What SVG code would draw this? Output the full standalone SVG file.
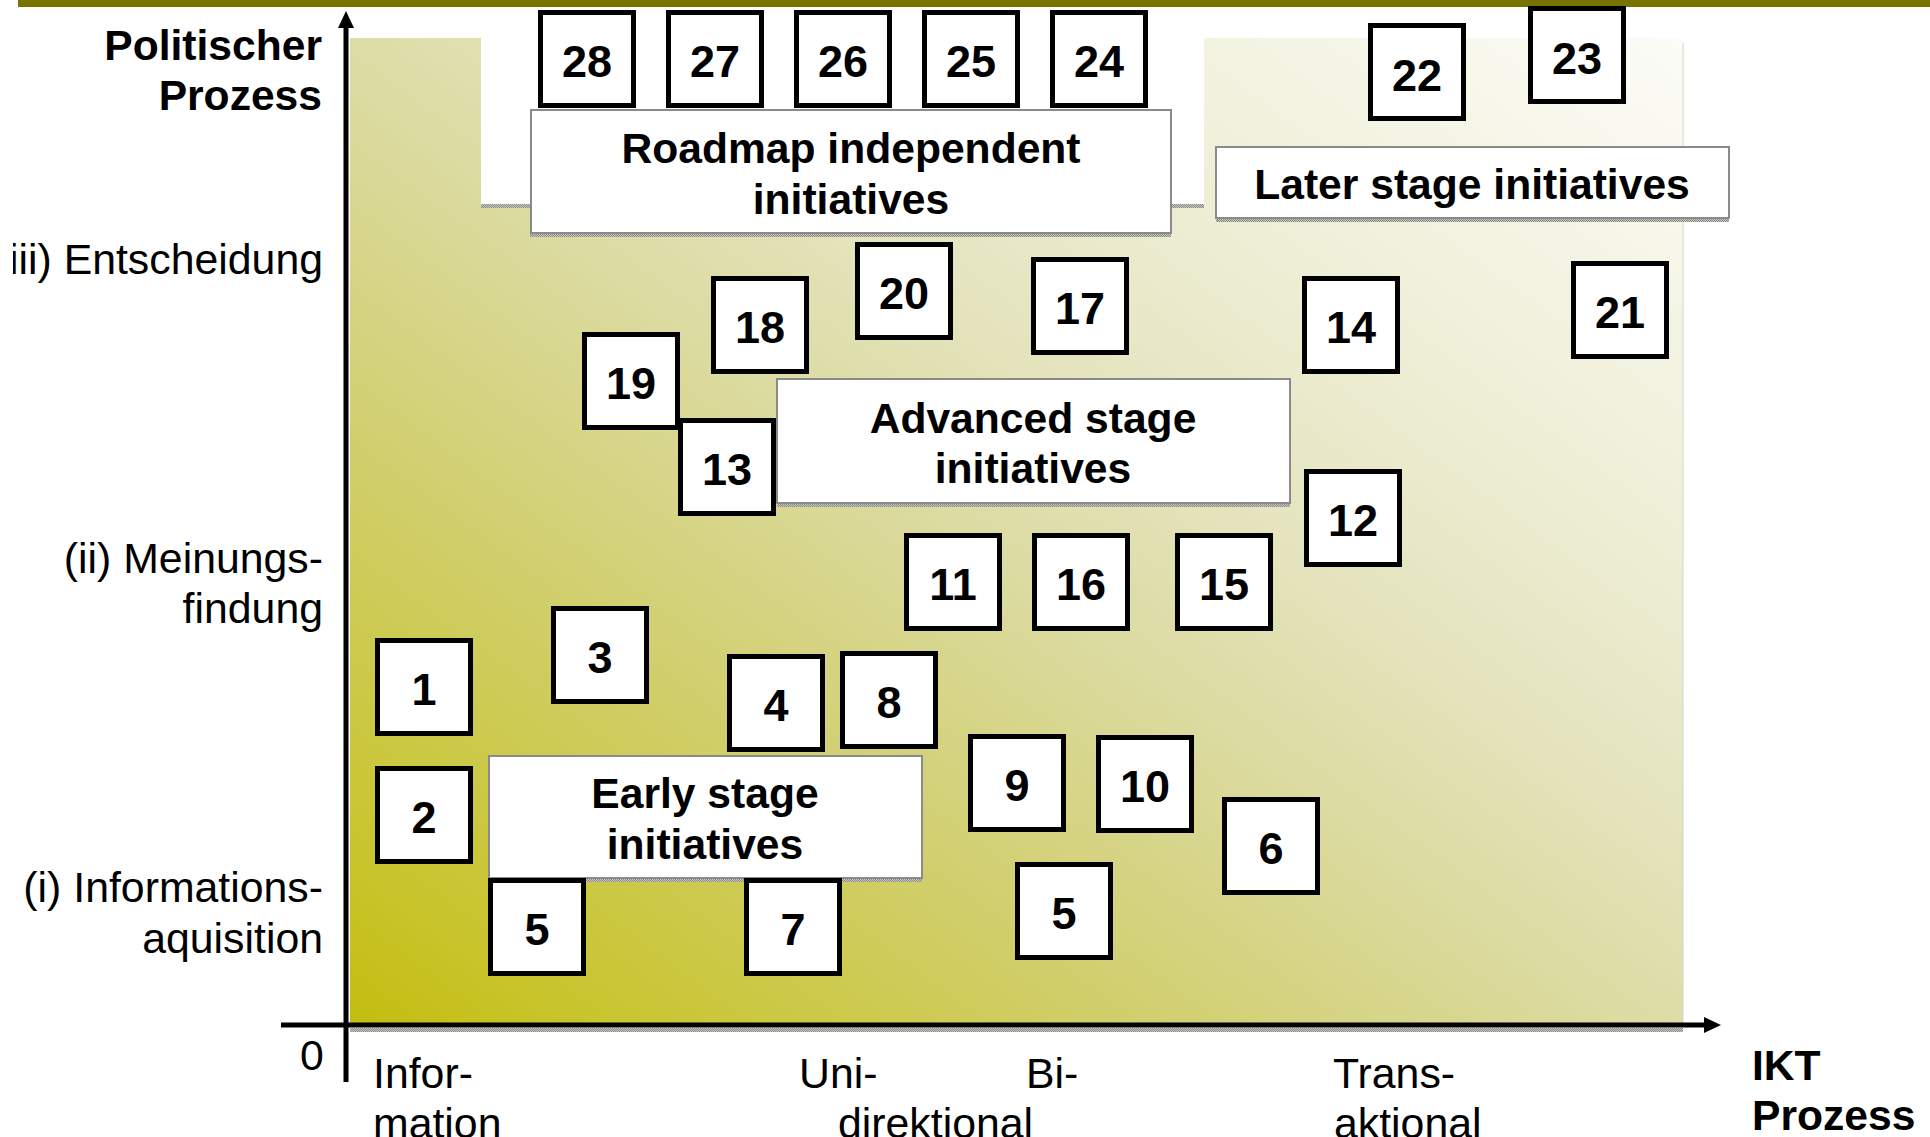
<svg xmlns="http://www.w3.org/2000/svg" width="1930" height="1137" viewBox="0 0 1930 1137">
<defs>
<style>
.nb{fill:#fff;stroke:#000;stroke-width:5}
.nt{font-family:"Liberation Sans",Arial,sans-serif;font-weight:bold;font-size:45px;text-anchor:middle;fill:#000}
.lb{fill:#fff;stroke:#8a8a8a;stroke-width:2}
.lt{font-family:"Liberation Sans",Arial,sans-serif;font-weight:bold;font-size:42.6px;text-anchor:middle;fill:#000}
.ax{font-family:"Liberation Sans",Arial,sans-serif;font-size:42.8px;fill:#000}
.axb{font-family:"Liberation Sans",Arial,sans-serif;font-weight:bold;font-size:42.6px;fill:#000}
.r{text-anchor:end}
</style>
<linearGradient id="bg" x1="0" y1="1" x2="1" y2="0">
<stop offset="0" stop-color="#c3bd10"/>
<stop offset="0.08" stop-color="#c8c42a"/>
<stop offset="0.3" stop-color="#d1cf6e"/>
<stop offset="0.48" stop-color="#dcdba2"/>
<stop offset="0.6" stop-color="#e5e4bf"/>
<stop offset="0.75" stop-color="#efefd8"/>
<stop offset="1" stop-color="#fcfcf8"/>
</linearGradient>
<pattern id="hatch" width="2" height="2" patternUnits="userSpaceOnUse">
<rect width="2" height="2" fill="#c8c8c0"/>
<rect width="1" height="1" fill="#8a8a84"/>
<rect x="1" y="1" width="1" height="1" fill="#8a8a84"/>
</pattern>
<clipPath id="lclip"><rect x="13" y="0" width="1917" height="1137"/></clipPath>
</defs>

<rect x="0" y="0" width="1930" height="1137" fill="#fff"/>
<rect x="18" y="0" width="1912" height="7" fill="#787300"/>

<g id="background">
<polygon points="350,38 481,38 481,205 1204,205 1204,38 1683,38 1683,1023 350,1023" fill="url(#bg)"/>
<line x1="1683" y1="43" x2="1683" y2="1023" stroke="#d4d4c8" stroke-width="1"/>
<rect x="481" y="204" width="723" height="4" fill="url(#hatch)"/>
<rect x="350" y="1028" width="1333" height="4" fill="url(#hatch)"/>
</g>

<g id="axes">
<line x1="346" y1="24" x2="346" y2="1082" stroke="#000" stroke-width="5"/>
<polygon points="346,11 338,28 354,28" fill="#000"/>
<line x1="281" y1="1025" x2="1706" y2="1025" stroke="#000" stroke-width="5"/>
<polygon points="1721,1025 1704,1017 1704,1033" fill="#000"/>
</g>

<g id="axis-labels">
<text class="axb r" x="322" y="60">Politischer</text>
<text class="axb r" x="322" y="110">Prozess</text>
<text class="ax r" x="323" y="274" clip-path="url(#lclip)">iii) Entscheidung</text>
<text class="ax r" x="323" y="573">(ii) Meinungs-</text>
<text class="ax r" x="323" y="623">findung</text>
<text class="ax r" x="323" y="902">(i) Informations-</text>
<text class="ax r" x="323" y="953">aquisition</text>
<text class="ax" x="300" y="1070">0</text>
<text class="ax" x="373" y="1088">Infor-</text>
<text class="ax" x="373" y="1138">mation</text>
<text class="ax" x="799" y="1088">Uni-</text>
<text class="ax" x="838" y="1138">direktional</text>
<text class="ax" x="1026" y="1088">Bi-</text>
<text class="ax" x="1333" y="1088">Trans-</text>
<text class="ax" x="1334" y="1138">aktional</text>
<text class="axb" x="1752" y="1080">IKT</text>
<text class="axb" x="1752" y="1130">Prozess</text>
</g>

<g id="label-roadmap">
<rect x="530" y="233" width="641" height="4" fill="url(#hatch)"/>
<rect class="lb" x="531" y="110" width="640" height="123"/>
<text class="lt" x="851" y="163">Roadmap independent</text>
<text class="lt" x="851" y="214">initiatives</text>
</g>
<g id="label-later">
<rect x="1216" y="218" width="513" height="4" fill="url(#hatch)"/>
<rect class="lb" x="1216" y="147" width="513" height="71"/>
<text class="lt" x="1472" y="199">Later stage initiatives</text>
</g>
<g id="label-advanced">
<rect x="777" y="503" width="513" height="4" fill="url(#hatch)"/>
<rect class="lb" x="777" y="379" width="513" height="124"/>
<text class="lt" x="1033" y="433">Advanced stage</text>
<text class="lt" x="1033" y="483">initiatives</text>
</g>
<g id="label-early">
<rect x="489" y="878" width="433" height="4" fill="url(#hatch)"/>
<rect class="lb" x="489" y="756" width="433" height="122"/>
<text class="lt" x="705" y="808">Early stage</text>
<text class="lt" x="705" y="859">initiatives</text>
</g>

<g id="n28"><rect class="nb" x="540.5" y="12.5" width="93" height="93"/><text class="nt" x="587" y="77">28</text></g>
<g id="n27"><rect class="nb" x="668.5" y="12.5" width="93" height="93"/><text class="nt" x="715" y="77">27</text></g>
<g id="n26"><rect class="nb" x="796.5" y="12.5" width="93" height="93"/><text class="nt" x="843" y="77">26</text></g>
<g id="n25"><rect class="nb" x="924.5" y="12.5" width="93" height="93"/><text class="nt" x="971" y="77">25</text></g>
<g id="n24"><rect class="nb" x="1052.5" y="12.5" width="93" height="93"/><text class="nt" x="1099" y="77">24</text></g>
<g id="n22"><rect class="nb" x="1370.5" y="25.5" width="93" height="93"/><text class="nt" x="1417" y="91">22</text></g>
<g id="n23"><rect class="nb" x="1530.5" y="8.5" width="93" height="93"/><text class="nt" x="1577" y="74">23</text></g>
<g id="n20"><rect class="nb" x="857.5" y="244.5" width="93" height="93"/><text class="nt" x="904" y="309">20</text></g>
<g id="n17"><rect class="nb" x="1033.5" y="259.5" width="93" height="93"/><text class="nt" x="1080" y="324">17</text></g>
<g id="n18"><rect class="nb" x="713.5" y="278.5" width="93" height="93"/><text class="nt" x="760" y="343">18</text></g>
<g id="n14"><rect class="nb" x="1304.5" y="278.5" width="93" height="93"/><text class="nt" x="1351" y="343">14</text></g>
<g id="n21"><rect class="nb" x="1573.5" y="263.5" width="93" height="93"/><text class="nt" x="1620" y="328">21</text></g>
<g id="n19"><rect class="nb" x="584.5" y="334.5" width="93" height="93"/><text class="nt" x="631" y="399">19</text></g>
<g id="n13"><rect class="nb" x="680.5" y="420.5" width="93" height="93"/><text class="nt" x="727" y="485">13</text></g>
<g id="n12"><rect class="nb" x="1306.5" y="471.5" width="93" height="93"/><text class="nt" x="1353" y="536">12</text></g>
<g id="n11"><rect class="nb" x="906.5" y="535.5" width="93" height="93"/><text class="nt" x="953" y="600">11</text></g>
<g id="n16"><rect class="nb" x="1034.5" y="535.5" width="93" height="93"/><text class="nt" x="1081" y="600">16</text></g>
<g id="n15"><rect class="nb" x="1177.5" y="535.5" width="93" height="93"/><text class="nt" x="1224" y="600">15</text></g>
<g id="n1"><rect class="nb" x="377.5" y="640.5" width="93" height="93"/><text class="nt" x="424" y="705">1</text></g>
<g id="n3"><rect class="nb" x="553.5" y="608.5" width="93" height="93"/><text class="nt" x="600" y="673">3</text></g>
<g id="n4"><rect class="nb" x="729.5" y="656.5" width="93" height="93"/><text class="nt" x="776" y="721">4</text></g>
<g id="n8"><rect class="nb" x="842.5" y="653.5" width="93" height="93"/><text class="nt" x="889" y="718">8</text></g>
<g id="n2"><rect class="nb" x="377.5" y="768.5" width="93" height="93"/><text class="nt" x="424" y="833">2</text></g>
<g id="n9"><rect class="nb" x="970.5" y="736.5" width="93" height="93"/><text class="nt" x="1017" y="801">9</text></g>
<g id="n10"><rect class="nb" x="1098.5" y="737.5" width="93" height="93"/><text class="nt" x="1145" y="802">10</text></g>
<g id="n6"><rect class="nb" x="1224.5" y="799.5" width="93" height="93"/><text class="nt" x="1271" y="864">6</text></g>
<g id="n5a"><rect class="nb" x="490.5" y="880.5" width="93" height="93"/><text class="nt" x="537" y="945">5</text></g>
<g id="n7"><rect class="nb" x="746.5" y="880.5" width="93" height="93"/><text class="nt" x="793" y="945">7</text></g>
<g id="n5b"><rect class="nb" x="1017.5" y="864.5" width="93" height="93"/><text class="nt" x="1064" y="929">5</text></g>

<g id="connectors"></g>
</svg>
